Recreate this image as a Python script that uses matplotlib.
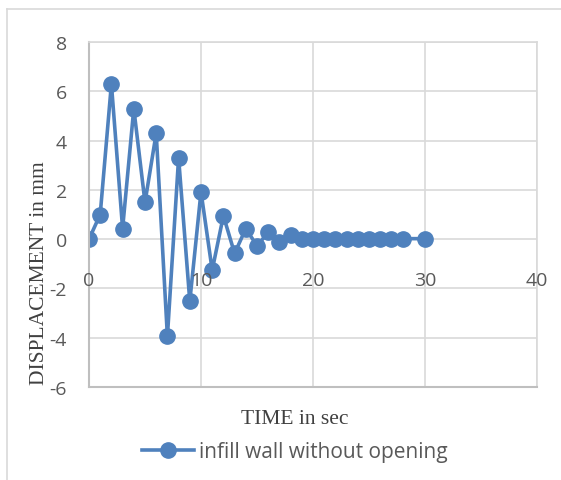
import matplotlib
matplotlib.use("Agg")
import matplotlib.pyplot as plt
from matplotlib.lines import Line2D

# displacement history of the infill wall (no opening)
time_sec = [0, 1, 2, 3, 4, 5, 6, 7, 8, 9, 10, 11, 12, 13, 14, 15, 16, 17, 18,
            19, 20, 21, 22, 23, 24, 25, 26, 27, 28, 30]
displacement_mm = [0.0, 1.0, 6.3, 0.43, 5.3, 1.49, 4.3, -3.95, 3.3, -2.52,
                   1.92, -1.26, 0.95, -0.58, 0.43, -0.27, 0.27, -0.1, 0.16,
                   0.02, 0.0, 0.02, 0.02, 0.02, 0.02, 0.02, 0.02, 0.02, 0.02,
                   0.02]
x_ticks = [0, 10, 20, 30, 40]
y_ticks = [-6, -4, -2, 0, 2, 4, 6, 8]

plt.rcParams["axes.unicode_minus"] = False

blue = "#4F81BD"
tick_grey = "#595959"
grid_grey = "#D9D9D9"
axis_grey = "#BFBFBF"
sans = ["Open Sans", "DejaVu Sans"]
serif = ["Liberation Serif", "DejaVu Serif"]

fig = plt.figure(figsize=(5.61, 4.81), dpi=100)
ax = fig.add_axes([89 / 561, 93 / 481, 448 / 561, 345 / 481])

ax.plot(time_sec, displacement_mm, color=blue, linewidth=2.6,
        marker="o", markersize=11, label="infill wall without opening")

ax.set_xlim(0, 40)
ax.set_ylim(-6, 8)
ax.set_xticks(x_ticks)
ax.set_yticks(y_ticks)
ax.grid(True, color=grid_grey, linewidth=1.2)
ax.set_axisbelow(True)
for side in ["top", "right"]:
    ax.spines[side].set_color(grid_grey)
    ax.spines[side].set_linewidth(1.2)
for side in ["left", "bottom"]:
    ax.spines[side].set_color(axis_grey)
    ax.spines[side].set_linewidth(1.5)

ax.tick_params(axis="both", length=0)
ax.tick_params(axis="y", pad=16, labelsize=14, labelcolor=tick_grey)
for lbl in ax.get_yticklabels():
    lbl.set_family(sans)
ax.set_xticklabels([])

# horizontal axis labels sit under the zero line
for xt in x_ticks:
    ax.annotate(str(xt), xy=(xt, 0), xytext=(0, -41), textcoords="offset pixels",
                ha="center", va="center", fontsize=14, color=tick_grey,
                family=sans)

fig.text(295 / 561, 1 - 420 / 481, "TIME in sec", ha="center", va="center",
         fontsize=15.5, color="#404040", family=serif)
fig.text(40 / 561, 1 - 273 / 481, "DISPLACEMENT in mm", ha="center",
         va="center", rotation=90, fontsize=15.5, color="#404040", family=serif)

leg = fig.legend(loc="center", bbox_to_anchor=(295 / 561, 1 - 453 / 481),
                 frameon=False, handlelength=2.5, handletextpad=0.25,
                 prop={"family": sans, "size": 15})
for t in leg.get_texts():
    t.set_color(tick_grey)

# outer chart frame
fig.add_artist(Line2D([7 / 561, 7 / 561], [0, 1 - 10 / 481],
                      transform=fig.transFigure, color=grid_grey, linewidth=1.2))
fig.add_artist(Line2D([7 / 561, 1], [1 - 10 / 481, 1 - 10 / 481],
                      transform=fig.transFigure, color=grid_grey, linewidth=1.2))

fig.savefig("out.png", dpi=100)
